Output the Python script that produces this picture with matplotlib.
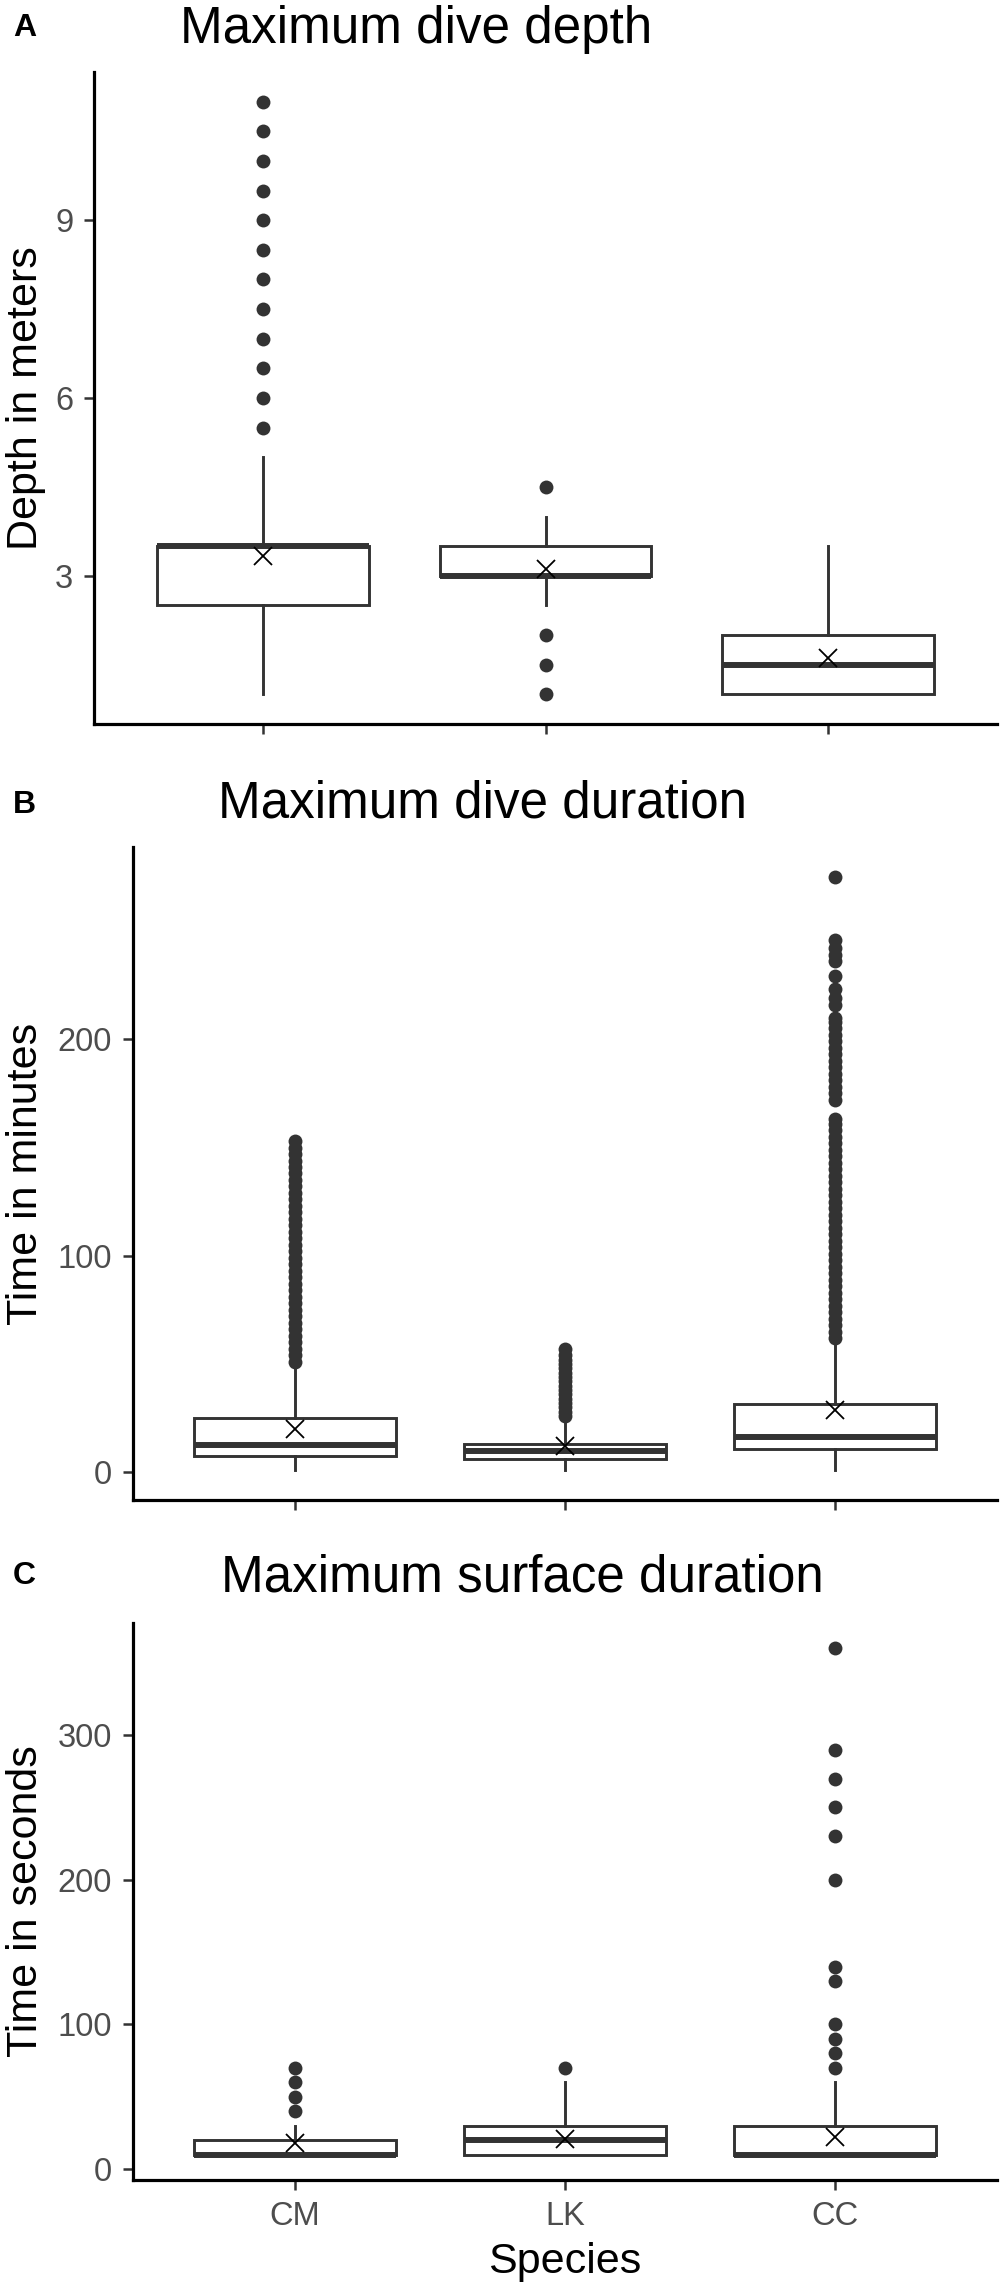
import matplotlib
matplotlib.use("Agg")
import matplotlib.pyplot as plt

plt.rcParams["font.family"] = ["Liberation Sans", "DejaVu Sans"]

# ---------------- data ----------------
species = ["CM", "LK", "CC"]

# Panel A: maximum dive depth (m)
depth_q1 = [2.5, 3.0, 1.0]
depth_med = [3.5, 3.0, 1.5]
depth_q3 = [3.5, 3.5, 2.0]
depth_whislo = [1.0, 2.5, 1.0]
depth_whishi = [5.0, 4.0, 3.5]
depth_mean = [3.34, 3.12, 1.61]
depth_out_cm = [5.5, 6.0, 6.5, 7.0, 7.5, 8.0, 8.5, 9.0, 9.5, 10.0, 10.5, 11.0]
depth_out_lk = [1.0, 1.5, 2.0, 4.5]
depth_out_cc = []

# Panel B: maximum dive duration (min)
dive_q1 = [7.6, 6.3, 11.0]
dive_med = [12.5, 9.7, 16.3]
dive_q3 = [25.3, 13.3, 31.5]
dive_whislo = [1.0, 1.0, 1.0]
dive_whishi = [49.0, 24.0, 60.0]
dive_mean = [20.2, 12.0, 28.7]
dive_out_cm = [51, 54, 57, 60, 63, 66, 69, 72, 75, 78, 81, 84, 87, 90, 93, 96,
               99, 102, 105, 108, 111, 114, 117, 120, 123, 126, 129, 132, 135,
               138, 141, 144, 147, 150, 153]
dive_out_lk = [26, 28, 30, 32, 34, 36, 38, 40, 42, 44, 46, 48, 50, 52, 54, 57]
dive_out_cc = [62, 65, 68, 71, 74, 77, 80, 83, 86, 89, 92, 95, 98, 101, 104,
               107, 110, 113, 116, 119, 122, 125, 128, 131, 134, 137, 140, 143,
               146, 149, 152, 155, 158, 161, 163,
               172, 175, 178, 181, 184, 187, 190, 193, 196, 199, 202, 205, 208,
               210, 216, 219, 223, 229, 236, 239, 242, 246, 275]

# Panel C: maximum surface duration (s)
surf_q1 = [10, 10, 10]
surf_med = [10, 20, 10]
surf_q3 = [20, 30, 30]
surf_whislo = [10, 10, 10]
surf_whishi = [30, 60, 60]
surf_mean = [18.0, 21.0, 22.2]
surf_out_cm = [40, 50, 60, 70]
surf_out_lk = [70]
surf_out_cc = [70, 80, 90, 100, 130, 140, 200, 230, 250, 270, 290, 360]

panels = [
    dict(letter="A", title="Maximum dive depth", ylabel="Depth in meters",
         q1=depth_q1, med=depth_med, q3=depth_q3, lo=depth_whislo,
         hi=depth_whishi, mean=depth_mean,
         out=[depth_out_cm, depth_out_lk, depth_out_cc],
         yticks=[3, 6, 9], ylim=(0.5, 11.5),
         rect=(94, 72, 997, 724), title_x=180, title_y=43, letter_y=36,
         xlabels=False),
    dict(letter="B", title="Maximum dive duration", ylabel="Time in minutes",
         q1=dive_q1, med=dive_med, q3=dive_q3, lo=dive_whislo,
         hi=dive_whishi, mean=dive_mean,
         out=[dive_out_cm, dive_out_lk, dive_out_cc],
         yticks=[0, 100, 200], ylim=(-12.7, 288.7),
         rect=(133, 847, 997, 1500), title_x=218, title_y=818, letter_y=813,
         xlabels=False),
    dict(letter="C", title="Maximum surface duration", ylabel="Time in seconds",
         q1=surf_q1, med=surf_med, q3=surf_q3, lo=surf_whislo,
         hi=surf_whishi, mean=surf_mean,
         out=[surf_out_cm, surf_out_lk, surf_out_cc],
         yticks=[0, 100, 200, 300], ylim=(-7.5, 377.5),
         rect=(133, 1623, 997, 2180), title_x=221, title_y=1591, letter_y=1584,
         xlabels=True),
]

W, H = 1000, 2292
fig = plt.figure(figsize=(W / 100, H / 100), dpi=100)

BOXC = "#333333"
for p in panels:
    l, t, r, b = p["rect"]
    ax = fig.add_axes([l / W, 1 - b / H, (r - l) / W, (b - t) / H])
    stats = []
    for i in range(3):
        stats.append(dict(med=p["med"][i], q1=p["q1"][i], q3=p["q3"][i],
                          whislo=p["lo"][i], whishi=p["hi"][i],
                          fliers=p["out"][i], mean=p["mean"][i]))
    ax.bxp(stats, positions=[1, 2, 3], widths=0.75, showcaps=False,
           showmeans=True, patch_artist=True,
           boxprops=dict(facecolor="white", edgecolor=BOXC, linewidth=2.1),
           whiskerprops=dict(color=BOXC, linewidth=2.1),
           medianprops=dict(color=BOXC, linewidth=4.3, solid_capstyle="butt"),
           flierprops=dict(marker="o", markersize=10, markerfacecolor=BOXC,
                           markeredgecolor="none", linestyle="none"),
           meanprops=dict(marker="x", markersize=13, markeredgecolor="black",
                          markeredgewidth=1.3, linestyle="none"))
    ax.set_xlim(0.4, 3.6)
    ax.set_ylim(*p["ylim"])
    ax.set_yticks(p["yticks"])
    ax.set_xticks([1, 2, 3])
    if p["xlabels"]:
        ax.set_xticklabels(species)
    else:
        ax.set_xticklabels([])
    for s in ["top", "right"]:
        ax.spines[s].set_visible(False)
    for s in ["left", "bottom"]:
        ax.spines[s].set_linewidth(2.3)
        ax.spines[s].set_color("black")
    ax.tick_params(axis="both", length=7, width=1.8, color=BOXC,
                   labelcolor="#4D4D4D", labelsize=23.5, pad=8)
    ax.set_facecolor("white")

    fig.text(p["title_x"] / W, 1 - p["title_y"] / H, p["title"],
             fontsize=36.8, ha="left", va="baseline", color="black")
    fig.text(13 / W, 1 - p["letter_y"] / H, p["letter"], fontsize=23,
             fontweight="bold", ha="left", va="baseline", color="black")
    fig.text(37 / W, 1 - ((t + b) / 2) / H, p["ylabel"], fontsize=31,
             rotation=90, rotation_mode="anchor", ha="center", va="baseline",
             color="black")

fig.text(((133 + 997) / 2) / W, 1 - 2273 / H, "Species", fontsize=31,
         ha="center", va="baseline", color="black")

fig.savefig("out.png", dpi=100, facecolor="white")
